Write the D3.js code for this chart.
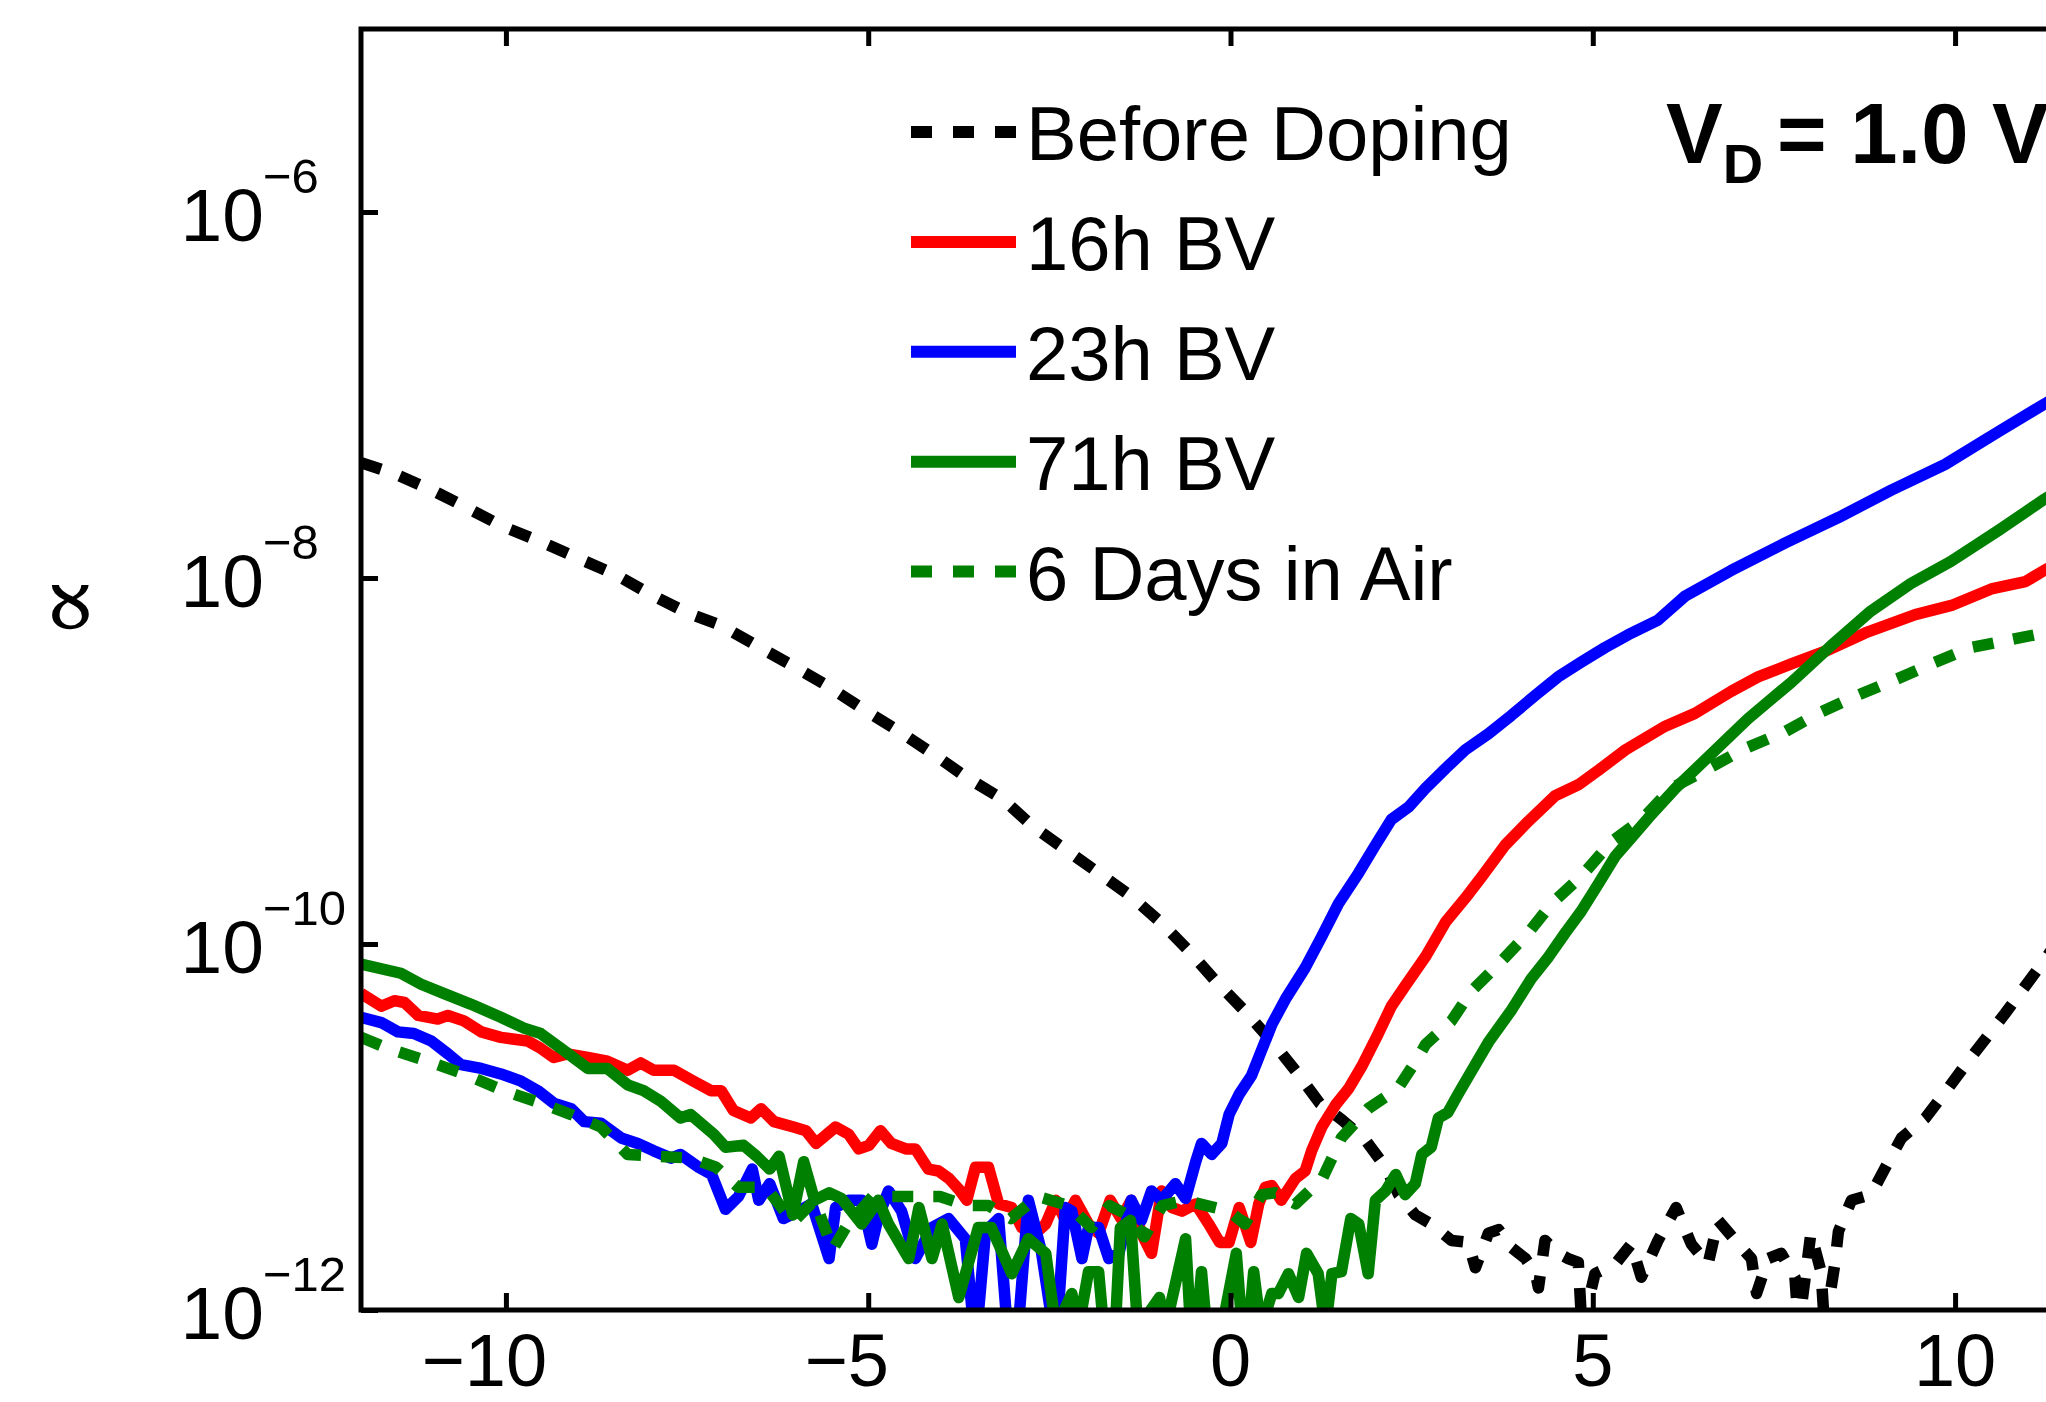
<!DOCTYPE html>
<html>
<head>
<meta charset="utf-8">
<script src="https://cdn.jsdelivr.net/npm/d3@7"></script>
<style>
  html, body { margin: 0; padding: 0; background: #fff; overflow: hidden; }
  svg { display: block; }
  text { font-family: "Liberation Sans", Arial, Helvetica, sans-serif; fill: #000; }
</style>
</head>
<body>
<svg id="chart" width="2046" height="1402"></svg>
<script>
// axis ticks
var xTicks = [-10, -5, 0, 5, 10];
var xTickLabels = ['\u221210', '\u22125', '0', '5', '10'];
var yTicks = [1e-12, 1e-10, 1e-8, 1e-6];
var yTickExps = ['\u221212', '\u221210', '\u22128', '\u22126'];

var seriesNames = ['Before Doping', '16h BV', '23h BV', '71h BV', '6 Days in Air'];
var seriesColors = ['#000000', '#ff0000', '#0000ff', '#008000', '#008000'];
var seriesDashed = [true, false, false, false, true];

// [gate voltage, value]
var beforeDoping = [
  [-12, 4.27e-8], [-11.54, 3.72e-8], [-11.02, 3.02e-8], [-10.52, 2.40e-8], [-10.04, 1.91e-8],
  [-9.52, 1.58e-8], [-9.02, 1.29e-8], [-8.5, 1.05e-8], [-8, 8.13e-9], [-7.5, 6.46e-9],
  [-7.03, 5.5e-9], [-6.54, 4.27e-9], [-6.04, 3.31e-9], [-5.56, 2.57e-9], [-5.06, 1.91e-9],
  [-4.57, 1.45e-9], [-4.07, 1.07e-9], [-3.64, 8.13e-10], [-3.14, 6.17e-10], [-2.72, 4.37e-10],
  [-2.29, 3.31e-10], [-1.86, 2.51e-10], [-1.37, 1.82e-10], [-0.94, 1.29e-10], [-0.57, 9.12e-11],
  [-0.19, 6.17e-11], [0.18, 4.37e-11], [0.61, 2.82e-11], [0.91, 2.0e-11], [1.23, 1.35e-11],
  [1.53, 1.1e-11], [1.86, 8.51e-12], [2.14, 6.03e-12], [2.32, 4.27e-12], [2.55, 3.31e-12],
  [2.77, 2.95e-12], [3.05, 2.4e-12], [3.28, 2.34e-12], [3.38, 1.7e-12], [3.56, 2.63e-12],
  [3.7, 2.75e-12], [3.88, 2.19e-12], [4.07, 1.91e-12], [4.21, 1.58e-12], [4.25, 1.32e-12],
  [4.34, 2.4e-12], [4.52, 2.04e-12], [4.66, 1.91e-12], [4.8, 1.82e-12], [4.85, 7.9e-13],
  [5.03, 1.58e-12], [5.31, 1.78e-12], [5.53, 2.29e-12], [5.67, 1.51e-12], [5.9, 2.4e-12],
  [6.15, 3.63e-12], [6.36, 2.29e-12], [6.59, 1.78e-12], [6.73, 3.09e-12], [7.01, 2.29e-12],
  [7.19, 1.91e-12], [7.26, 1.23e-12], [7.42, 1.91e-12], [7.6, 2.04e-12], [7.79, 1.51e-12],
  [7.84, 7.9e-13], [8.01, 2.63e-12], [8.15, 1.62e-12], [8.2, 7.9e-13], [8.34, 1.78e-12],
  [8.39, 2.69e-12], [8.57, 3.98e-12], [8.84, 4.27e-12], [9.08, 6.46e-12], [9.26, 8.71e-12],
  [9.59, 1.12e-11], [9.9, 1.62e-11], [10.22, 2.4e-11], [10.69, 4.17e-11], [11.23, 8.13e-11],
  [12, 2.24e-10]
];

var bv16h = [
  [-12, 5.37e-11], [-11.72, 4.57e-11], [-11.54, 4.9e-11], [-11.4, 4.79e-11], [-11.21, 4.07e-11],
  [-10.94, 3.89e-11], [-10.8, 4.07e-11], [-10.58, 3.8e-11], [-10.34, 3.31e-11], [-10.07, 3.09e-11],
  [-9.7, 2.95e-11], [-9.52, 2.69e-11], [-9.34, 2.4e-11], [-9.15, 2.51e-11], [-8.87, 2.4e-11],
  [-8.6, 2.29e-11], [-8.32, 2.04e-11], [-8.14, 2.24e-11], [-7.96, 2.04e-11], [-7.68, 2.04e-11],
  [-7.41, 1.78e-11], [-7.17, 1.58e-11], [-7.03, 1.58e-11], [-6.86, 1.23e-11], [-6.62, 1.12e-11],
  [-6.48, 1.26e-11], [-6.3, 1.07e-11], [-6.03, 1.0e-11], [-5.86, 9.55e-12], [-5.72, 8.13e-12],
  [-5.45, 1.0e-11], [-5.27, 9.12e-12], [-5.13, 7.59e-12], [-4.99, 7.94e-12], [-4.83, 9.55e-12],
  [-4.68, 8.13e-12], [-4.48, 7.59e-12], [-4.35, 7.59e-12], [-4.17, 5.89e-12], [-4.03, 5.75e-12],
  [-3.89, 5.25e-12], [-3.75, 4.57e-12], [-3.64, 3.98e-12], [-3.52, 6.03e-12], [-3.34, 6.03e-12],
  [-3.2, 3.8e-12], [-3.02, 3.63e-12], [-2.88, 2.82e-12], [-2.69, 2.63e-12], [-2.55, 2.95e-12],
  [-2.41, 3.98e-12], [-2.28, 3.09e-12], [-2.14, 3.98e-12], [-1.96, 2.95e-12], [-1.82, 2.63e-12],
  [-1.66, 3.98e-12], [-1.51, 3.16e-12], [-1.37, 3.98e-12], [-1.23, 2.63e-12], [-1.09, 2.04e-12],
  [-0.95, 4.47e-12], [-0.81, 3.63e-12], [-0.67, 3.47e-12], [-0.48, 3.8e-12], [-0.3, 2.95e-12],
  [-0.15, 2.34e-12], [-0.02, 2.34e-12], [0.12, 3.63e-12], [0.28, 2.34e-12], [0.39, 3.8e-12],
  [0.48, 4.68e-12], [0.57, 4.79e-12], [0.7, 3.98e-12], [0.9, 5.25e-12], [1.03, 5.75e-12],
  [1.12, 7.41e-12], [1.26, 1.0e-11], [1.45, 1.32e-11], [1.63, 1.62e-11], [1.81, 2.14e-11],
  [2.04, 3.24e-11], [2.22, 4.57e-11], [2.41, 5.89e-11], [2.69, 8.51e-11], [2.97, 1.32e-10],
  [3.24, 1.78e-10], [3.47, 2.34e-10], [3.79, 3.47e-10], [4.11, 4.68e-10], [4.48, 6.46e-10],
  [4.8, 7.41e-10], [5.08, 8.91e-10], [5.45, 1.15e-9], [6.0, 1.55e-9], [6.41, 1.82e-9],
  [6.91, 2.4e-9], [7.28, 2.88e-9], [7.74, 3.39e-9], [8.21, 3.98e-9], [8.76, 5.01e-9],
  [9.45, 6.31e-9], [9.95, 7.08e-9], [10.5, 8.71e-9], [10.97, 9.55e-9], [11.23, 1.1e-8],
  [12, 1.58e-8]
];

var bv23h = [
  [-12, 3.98e-11], [-11.72, 3.72e-11], [-11.49, 3.31e-11], [-11.27, 3.24e-11], [-11.03, 2.95e-11],
  [-10.8, 2.51e-11], [-10.62, 2.19e-11], [-10.34, 2.09e-11], [-10.07, 1.95e-11], [-9.79, 1.78e-11],
  [-9.56, 1.58e-11], [-9.34, 1.35e-11], [-9.1, 1.26e-11], [-8.92, 1.07e-11], [-8.69, 1.05e-11],
  [-8.41, 8.71e-12], [-8.18, 8.13e-12], [-7.96, 7.41e-12], [-7.72, 6.76e-12], [-7.59, 7.08e-12],
  [-7.34, 6.03e-12], [-7.16, 5.5e-12], [-6.97, 3.55e-12], [-6.79, 4.17e-12], [-6.6, 5.89e-12],
  [-6.51, 3.98e-12], [-6.36, 4.9e-12], [-6.17, 3.16e-12], [-5.96, 3.47e-12], [-5.78, 3.8e-12],
  [-5.54, 1.91e-12], [-5.45, 3.63e-12], [-5.27, 3.98e-12], [-5.09, 3.98e-12], [-4.95, 2.29e-12],
  [-4.86, 3.24e-12], [-4.72, 4.47e-12], [-4.54, 3.47e-12], [-4.35, 1.91e-12], [-4.12, 2.82e-12],
  [-3.89, 3.16e-12], [-3.66, 2.45e-12], [-3.52, 6.3e-13], [-3.38, 2.69e-12], [-3.2, 3.16e-12],
  [-3.06, 6.3e-13], [-2.95, 6.3e-13], [-2.79, 3.98e-12], [-2.61, 2.09e-12], [-2.41, 6.3e-13],
  [-2.28, 3.63e-12], [-2.19, 3.47e-12], [-2.05, 1.91e-12], [-1.96, 2.82e-12], [-1.82, 2.82e-12],
  [-1.68, 1.91e-12], [-1.54, 2.04e-12], [-1.37, 3.98e-12], [-1.23, 3.09e-12], [-1.09, 4.47e-12],
  [-0.95, 3.98e-12], [-0.76, 4.9e-12], [-0.62, 4.07e-12], [-0.48, 6.46e-12], [-0.4, 8.13e-12],
  [-0.26, 7.08e-12], [-0.12, 8.13e-12], [-0.02, 1.17e-11], [0.12, 1.51e-11], [0.29, 1.91e-11],
  [0.57, 3.63e-11], [0.76, 5.01e-11], [1.03, 7.41e-11], [1.26, 1.1e-10], [1.49, 1.66e-10],
  [1.77, 2.45e-10], [2.0, 3.47e-10], [2.22, 4.79e-10], [2.46, 5.62e-10], [2.69, 7.08e-10],
  [2.97, 9.12e-10], [3.24, 1.15e-9], [3.56, 1.41e-9], [3.88, 1.78e-9], [4.21, 2.29e-9],
  [4.52, 2.88e-9], [4.84, 3.47e-9], [5.17, 4.17e-9], [5.49, 4.9e-9], [5.9, 5.89e-9],
  [6.27, 7.94e-9], [6.91, 1.1e-8], [7.65, 1.55e-8], [8.39, 2.14e-8], [9.12, 3.02e-8],
  [9.86, 4.17e-8], [10.6, 6.31e-8], [11.23, 8.91e-8], [12, 1.32e-7]
];

var bv71h = [
  [-12, 7.76e-11], [-11.45, 6.92e-11], [-11.17, 6.03e-11], [-10.86, 5.37e-11], [-10.48, 4.68e-11],
  [-10.07, 3.98e-11], [-9.75, 3.47e-11], [-9.52, 3.24e-11], [-9.24, 2.69e-11], [-8.87, 2.09e-11],
  [-8.6, 2.09e-11], [-8.32, 1.7e-11], [-8.1, 1.58e-11], [-7.86, 1.38e-11], [-7.59, 1.12e-11],
  [-7.45, 1.17e-11], [-7.13, 9.12e-12], [-6.97, 7.76e-12], [-6.72, 7.94e-12], [-6.54, 6.92e-12],
  [-6.36, 5.89e-12], [-6.23, 6.92e-12], [-6.04, 3.31e-12], [-5.89, 6.46e-12], [-5.74, 3.98e-12],
  [-5.54, 4.37e-12], [-5.37, 4.07e-12], [-5.09, 2.95e-12], [-4.86, 3.98e-12], [-4.72, 2.95e-12],
  [-4.44, 1.91e-12], [-4.3, 3.63e-12], [-4.12, 1.91e-12], [-3.98, 2.95e-12], [-3.75, 1.17e-12],
  [-3.48, 2.82e-12], [-3.3, 2.82e-12], [-3.02, 1.58e-12], [-2.79, 2.45e-12], [-2.55, 2.04e-12],
  [-2.41, 7.9e-13], [-2.19, 1.23e-12], [-2.1, 7.9e-13], [-1.96, 1.62e-12], [-1.82, 1.62e-12],
  [-1.75, 7.9e-13], [-1.59, 7.9e-13], [-1.52, 2.82e-12], [-1.38, 3.09e-12], [-1.28, 7.9e-13],
  [-0.98, 1.17e-12], [-0.9, 7.9e-13], [-0.62, 2.45e-12], [-0.55, 7.9e-13], [-0.47, 7.9e-13],
  [-0.4, 1.62e-12], [-0.33, 7.9e-13], [-0.12, 7.9e-13], [0.08, 2.04e-12], [0.16, 7.9e-13],
  [0.25, 7.9e-13], [0.32, 1.62e-12], [0.42, 7.9e-13], [0.57, 1.23e-12], [0.66, 1.23e-12],
  [0.8, 1.58e-12], [0.94, 1.17e-12], [1.05, 2.04e-12], [1.21, 1.58e-12], [1.31, 7.9e-13],
  [1.4, 1.58e-12], [1.53, 1.62e-12], [1.66, 3.16e-12], [1.77, 2.95e-12], [1.9, 1.58e-12],
  [2.0, 3.98e-12], [2.14, 4.47e-12], [2.28, 5.5e-12], [2.41, 4.27e-12], [2.55, 4.9e-12],
  [2.64, 7.08e-12], [2.77, 7.76e-12], [2.87, 1.12e-11], [3.0, 1.2e-11], [3.14, 1.51e-11],
  [3.32, 2.0e-11], [3.57, 2.95e-11], [3.88, 4.37e-11], [4.15, 6.46e-11], [4.39, 8.51e-11],
  [4.62, 1.15e-10], [4.84, 1.51e-10], [5.08, 2.14e-10], [5.31, 3.02e-10], [5.53, 3.8e-10],
  [5.77, 4.9e-10], [6.14, 7.08e-10], [6.59, 1.05e-9], [7.14, 1.7e-9], [7.74, 2.69e-9],
  [8.29, 4.27e-9], [8.84, 6.61e-9], [9.39, 9.33e-9], [9.94, 1.23e-8], [10.6, 1.82e-8],
  [11.23, 2.69e-8], [12, 4.17e-8]
];

var daysInAir6 = [
  [-12, 3.09e-11], [-11.63, 2.69e-11], [-11.08, 2.29e-11], [-10.58, 1.95e-11], [-10.03, 1.58e-11],
  [-9.52, 1.35e-11], [-9.1, 1.17e-11], [-8.69, 1.0e-11], [-8.32, 7.08e-12], [-7.9, 6.92e-12],
  [-7.45, 6.76e-12], [-7.1, 6.03e-12], [-6.79, 4.68e-12], [-6.41, 4.68e-12], [-6.04, 3.02e-12],
  [-5.74, 3.98e-12], [-5.49, 2.14e-12], [-5.31, 2.82e-12], [-4.94, 4.17e-12], [-4.44, 4.17e-12],
  [-4.01, 4.17e-12], [-3.64, 3.72e-12], [-3.34, 3.72e-12], [-3.03, 3.16e-12], [-2.66, 4.17e-12],
  [-2.23, 3.72e-12], [-1.92, 2.82e-12], [-1.67, 3.72e-12], [-1.42, 3.31e-12], [-1.19, 2.51e-12],
  [-0.94, 3.72e-12], [-0.63, 3.98e-12], [-0.33, 3.72e-12], [-0.02, 3.47e-12], [0.2, 2.95e-12],
  [0.43, 4.27e-12], [0.62, 4.37e-12], [0.9, 3.8e-12], [1.27, 5.25e-12], [1.53, 8.71e-12],
  [1.9, 1.26e-11], [2.31, 1.62e-11], [2.59, 2.4e-11], [2.69, 2.82e-11], [3.05, 3.8e-11],
  [3.32, 5.5e-11], [3.7, 7.76e-11], [4.11, 1.15e-10], [4.43, 1.66e-10], [4.84, 2.34e-10],
  [5.26, 3.63e-10], [5.68, 4.79e-10], [6.08, 7.08e-10], [6.55, 8.91e-10], [7.1, 1.17e-9],
  [7.66, 1.45e-9], [8.11, 1.82e-9], [8.66, 2.29e-9], [9.21, 2.82e-9], [9.67, 3.39e-9],
  [10.22, 4.17e-9], [10.73, 4.57e-9], [11.23, 5.01e-9], [12, 5.75e-9]
];

var seriesData = [beforeDoping, bv16h, bv23h, bv71h, daysInAir6];

var svg = d3.select('#chart');

var x = d3.scaleLinear().domain([-12, 12]).range([361, 2100]);
var y = d3.scaleLog().domain([1e-12, 1e-5]).range([1310, 29]);

svg.append('clipPath').attr('id', 'plotClip')
  .append('rect')
    .attr('x', x(-12)).attr('y', y(1e-5))
    .attr('width', x(12) - x(-12)).attr('height', y(1e-12) - y(1e-5));

var line = d3.line()
    .x(function(d) { return x(d[0]); })
    .y(function(d) { return y(d[1]); });

var plot = svg.append('g').attr('clip-path', 'url(#plotClip)');

// draw in the same order as the legend
seriesData.forEach(function(data, i) {
  plot.append('path')
      .datum(data)
      .attr('d', line)
      .attr('fill', 'none')
      .attr('stroke', seriesColors[i])
      .attr('stroke-width', 11.5)
      .attr('stroke-linejoin', 'round')
      .attr('stroke-dasharray', seriesDashed[i] ? '21,20' : null);
});

// axes (inner ticks, frame drawn separately)
function styleAxis(g) {
  g.select('.domain').remove();
  g.selectAll('.tick line').attr('stroke', '#000').attr('stroke-width', 5);
}

svg.append('g')
    .attr('transform', 'translate(0,' + y(1e-12) + ')')
    .call(d3.axisBottom(x).tickValues(xTicks).tickSize(-17).tickSizeOuter(0).tickFormat(''))
    .call(styleAxis);

svg.append('g')
    .attr('transform', 'translate(0,' + y(1e-5) + ')')
    .call(d3.axisTop(x).tickValues(xTicks).tickSize(-17).tickSizeOuter(0).tickFormat(''))
    .call(styleAxis);

svg.append('g')
    .attr('transform', 'translate(' + x(-12) + ',0)')
    .call(d3.axisLeft(y).tickValues(yTicks).tickSize(-17).tickSizeOuter(0).tickFormat(''))
    .call(styleAxis);

svg.append('rect')
    .attr('x', x(-12)).attr('y', y(1e-5))
    .attr('width', x(12) - x(-12)).attr('height', y(1e-12) - y(1e-5))
    .attr('fill', 'none').attr('stroke', '#000').attr('stroke-width', 5);

// x tick labels: the digits sit centred on the tick, the minus hangs to the left
xTicks.forEach(function(t, i) {
  var label = xTickLabels[i];
  var neg = label.charAt(0) === '\u2212';
  var digits = neg ? label.slice(1) : label;
  var tx = svg.append('text')
      .attr('x', x(t)).attr('y', 1386)
      .attr('text-anchor', 'middle')
      .attr('font-size', 74)
      .text(digits);
  if (neg) {
    var w = tx.node().getComputedTextLength();
    svg.append('text')
        .attr('x', x(t) - w / 2).attr('y', 1386)
        .attr('text-anchor', 'end')
        .attr('font-size', 74)
        .text('\u2212');
  }
});

// y tick labels: 10 with superscript exponent
yTicks.forEach(function(t, i) {
  var ty = y(t);
  svg.append('text')
      .attr('x', 264).attr('y', ty + 29)
      .attr('text-anchor', 'end')
      .attr('font-size', 75)
      .text('10');
  svg.append('text')
      .attr('x', 263).attr('y', ty - 19)
      .attr('font-size', 49)
      .text(yTickExps[i]);
});

// y label
svg.append('text')
    .attr('transform', 'translate(75,607) rotate(-90)')
    .attr('y', 24)
    .attr('text-anchor', 'middle')
    .attr('font-size', 96)
    .style('font-family', '"Liberation Serif", "DejaVu Serif", serif')
    .text('\u221d');

// legend
var legendRow0 = 132, legendStep = 109.9;
seriesNames.forEach(function(name, i) {
  var ly = legendRow0 + i * legendStep;
  svg.append('line')
      .attr('x1', 911).attr('x2', 1016)
      .attr('y1', ly).attr('y2', ly)
      .attr('stroke', seriesColors[i])
      .attr('stroke-width', 12)
      .attr('stroke-dasharray', seriesDashed[i] ? '21,21' : null);
  svg.append('text')
      .attr('x', 1026).attr('y', ly + 28)
      .attr('font-size', 76)
      .text(name);
});

// annotation
var note = svg.append('text')
    .attr('x', 1666).attr('y', 163)
    .attr('font-size', 85)
    .attr('font-weight', 'bold');
note.append('tspan').text('V');
note.append('tspan').attr('font-size', 56).attr('dy', 20).text('D');
note.append('tspan').attr('x', 1777).attr('dy', -20).text('= 1.0 V');
</script>
</body>
</html>
